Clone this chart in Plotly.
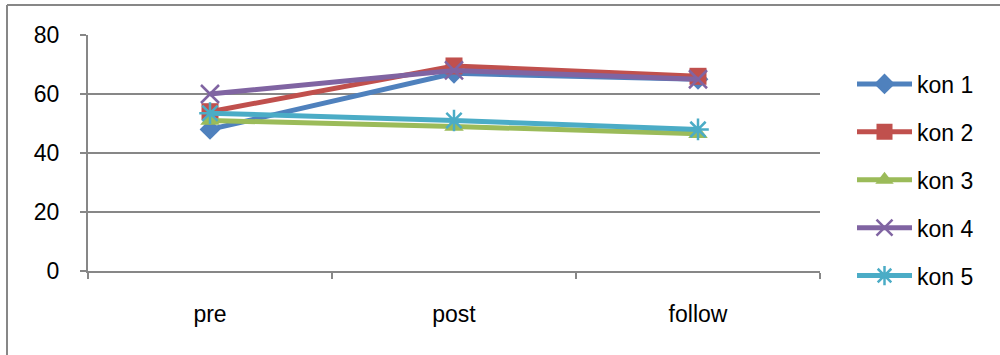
import plotly.graph_objects as go

categories = ["pre", "post", "follow"]
kon1 = [48, 67, 65]
kon2 = [54, 69.5, 66]
kon3 = [51, 49, 46.5]
kon4 = [60, 68, 65]
kon5 = [53.5, 51, 48]
names = ["kon 1", "kon 2", "kon 3", "kon 4", "kon 5"]
series = [kon1, kon2, kon3, kon4, kon5]
colors = ["#4F81BD", "#C0504D", "#9BBB59", "#8064A2", "#4BACC6"]
symbols = ["diamond", "square", "triangle-up", "x-thin-open", "asterisk-open"]
sizes = [16, 17, 17, 18, 18]

fig = go.Figure()
for i, (n, v) in enumerate(zip(names, series)):
    fig.add_trace(go.Scatter(
        x=categories, y=v, name=n, mode="lines+markers",
        legendgroup=n,
        line=dict(color=colors[i], width=5),
        marker=dict(symbol=symbols[i], size=sizes[i], color=colors[i],
                    line=dict(color=colors[i], width=2.5 if i >= 3 else 0)),
    ))

font = "Liberation Sans"
fig.update_layout(
    width=1000, height=355,
    margin=dict(l=88, r=180, t=35, b=84),
    paper_bgcolor="white", plot_bgcolor="white",
    font=dict(family=font, size=23, color="#000000"),
    showlegend=True,
    legend=dict(x=(852 - 88) / 732, y=(271 - 180) / 236, xanchor="left", yanchor="middle",
                font=dict(size=23), tracegroupgap=15, itemwidth=55,
                traceorder="grouped", maxheight=355),
    xaxis=dict(type="category", showgrid=False, showline=True,
               linecolor="#878787", linewidth=2, ticks="outside",
               tickson="boundaries", ticklen=6, tickcolor="#878787",
               tickwidth=1.5, ticklabelstandoff=21, zeroline=False,
               range=[-0.5, 2.5]),
    yaxis=dict(range=[0, 80], dtick=20, showgrid=True, gridcolor="#878787",
               gridwidth=1.5, showline=True, linecolor="#878787", linewidth=2,
               ticks="outside", ticklen=6, tickcolor="#878787", tickwidth=1.5,
               ticklabelstandoff=16, zeroline=False),
    shapes=[
        dict(type="line", xref="paper", yref="paper",
             x0=-81/732, x1=-81/732, y0=(35 - 5) / 236 + 1, y1=-84/236 - 0.1,
             line=dict(color="#878787", width=2)),
        dict(type="line", xref="paper", yref="paper",
             x0=-81/732, x1=1 + 185/732, y0=(35 - 5) / 236 + 1, y1=(35 - 5) / 236 + 1,
             line=dict(color="#878787", width=2)),
    ],
)

fig.write_html("out.html", config={"displayModeBar": False},
               post_script="document.body.style.margin='0px';")
